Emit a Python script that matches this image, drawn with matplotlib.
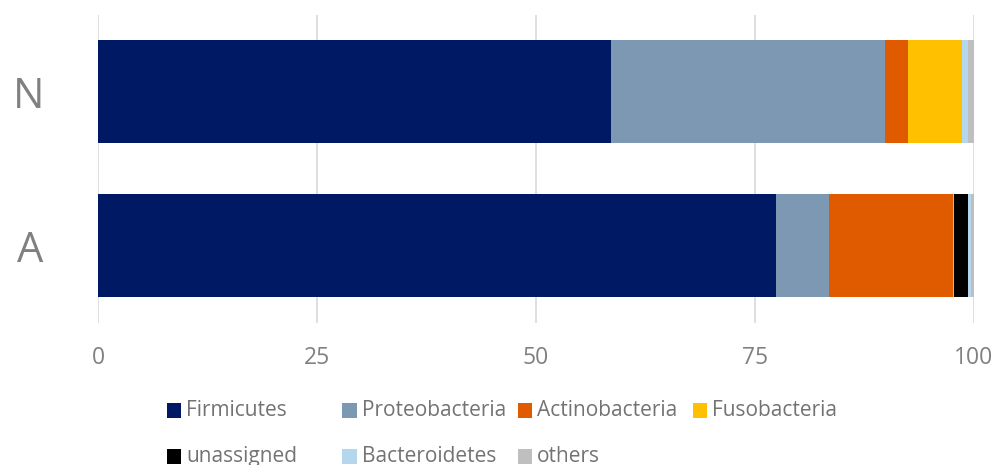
import matplotlib
matplotlib.use("Agg")
import matplotlib.pyplot as plt
from matplotlib.patches import Rectangle

plt.rcParams['font.family'] = ['Open Sans', 'DejaVu Sans']

# Relative abundance (%) of bacterial phyla per group
groups = ["A", "N"]
phyla = ["Firmicutes", "Proteobacteria", "Actinobacteria", "Fusobacteria",
         "unassigned", "Bacteroidetes", "others"]
firmicutes = [77.4, 58.56]
proteobacteria = [6.05, 31.28]
actinobacteria = [14.19, 2.63]
fusobacteria = [0.11, 6.13]
unassigned = [1.60, 0.0]
bacteroidetes = [0.27, 0.68]
others = [0.38, 0.72]
xticks = [0, 25, 50, 75, 100]

series = [firmicutes, proteobacteria, actinobacteria, fusobacteria,
          unassigned, bacteroidetes, others]
colors = ["#001965", "#7d98b3", "#e05a00", "#ffc000",
          "#000000", "#b4d7ee", "#bfbfbf"]

W, H = 1003, 465
fig = plt.figure(figsize=(W / 100, H / 100), dpi=100)
ax = fig.add_axes([98 / W, (H - 322.5) / H, (974 - 98) / W, (322.5 - 14.5) / H])

ypos = list(range(len(groups)))
left = [0.0] * len(groups)
for vals, col, name in zip(series, colors, phyla):
    ax.barh(ypos, vals, left=left, height=0.67, color=col, label=name,
            linewidth=0, zorder=3)
    left = [l + v for l, v in zip(left, vals)]

ax.set_xlim(0, 100)
ax.set_ylim(-0.5, 1.5)
ax.set_xticks(xticks)
ax.set_xticklabels([str(t) for t in xticks])
ax.set_yticks(ypos)
ax.set_yticklabels(groups)
ax.tick_params(axis='x', length=0, pad=17, labelsize=16.5, labelcolor="#808080")
ax.tick_params(axis='y', length=0, pad=39, labelsize=30, labelcolor="#808080")
ax.grid(axis='x', color="#d9d9d9", linewidth=1.2, zorder=0)
for s in ax.spines.values():
    s.set_visible(False)

# Legend laid out in fixed-width columns below the plot
col_w = 175.3
for i, (name, col) in enumerate(zip(phyla, colors)):
    r, c = divmod(i, 4)
    x0 = 167 + col_w * c
    yc = 410 + 46 * r
    fig.patches.append(Rectangle(((x0) / W, (H - yc - 7.5) / H), 14.5 / W, 14.5 / H,
                                 transform=fig.transFigure, facecolor=col,
                                 edgecolor='none'))
    fig.text((x0 + 19.5) / W, (H - yc - 6) / H, name, fontsize=15, color="#737373",
             va='baseline', ha='left')

fig.savefig("out.png", dpi=100)
